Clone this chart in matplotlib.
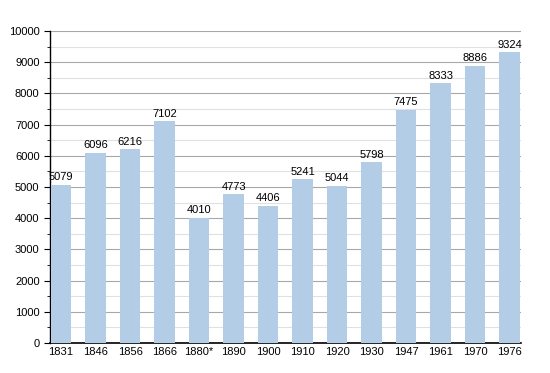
import matplotlib
matplotlib.use("Agg")
import matplotlib.pyplot as plt
from matplotlib.ticker import MultipleLocator

years = ['1831', '1846', '1856', '1866', '1880*', '1890', '1900',
         '1910', '1920', '1930', '1947', '1961', '1970', '1976']
population = [5079, 6096, 6216, 7102, 4010, 4773, 4406,
              5241, 5044, 5798, 7475, 8333, 8886, 9324]

plt.rcParams['font.family'] = ['Liberation Sans', 'DejaVu Sans']

fig = plt.figure(figsize=(5.5, 3.73), dpi=100)
ax = fig.add_axes([50 / 550, 1 - 343 / 373, 471 / 550, 312 / 373])

x = range(len(years))
bars = ax.bar(x, population, width=0.6, color='#b3cde6', zorder=3)

# value labels above bars
for xi, v in zip(x, population):
    ax.text(xi, v + 80, str(v), ha='center', va='bottom', fontsize=8, zorder=4)

ax.set_ylim(0, 10000)
ax.set_xlim(-0.32, 13.33)
ax.yaxis.set_major_locator(MultipleLocator(1000))
ax.yaxis.set_minor_locator(MultipleLocator(500))
ax.grid(axis='y', which='major', color='#a8a8a8', linewidth=0.8, zorder=0)
ax.grid(axis='y', which='minor', color='#e0e0e0', linewidth=0.8, zorder=0)

ax.set_xticks(list(x))
ax.set_xticklabels(years)
ax.tick_params(axis='x', length=0, labelsize=8, pad=3)
ax.tick_params(axis='y', which='major', length=4, labelsize=8)
ax.tick_params(axis='y', which='minor', length=2)

for side in ['top', 'right']:
    ax.spines[side].set_visible(False)
ax.spines['left'].set_linewidth(1.0)
ax.spines['bottom'].set_linewidth(1.2)

fig.savefig('out.png', dpi=100)
